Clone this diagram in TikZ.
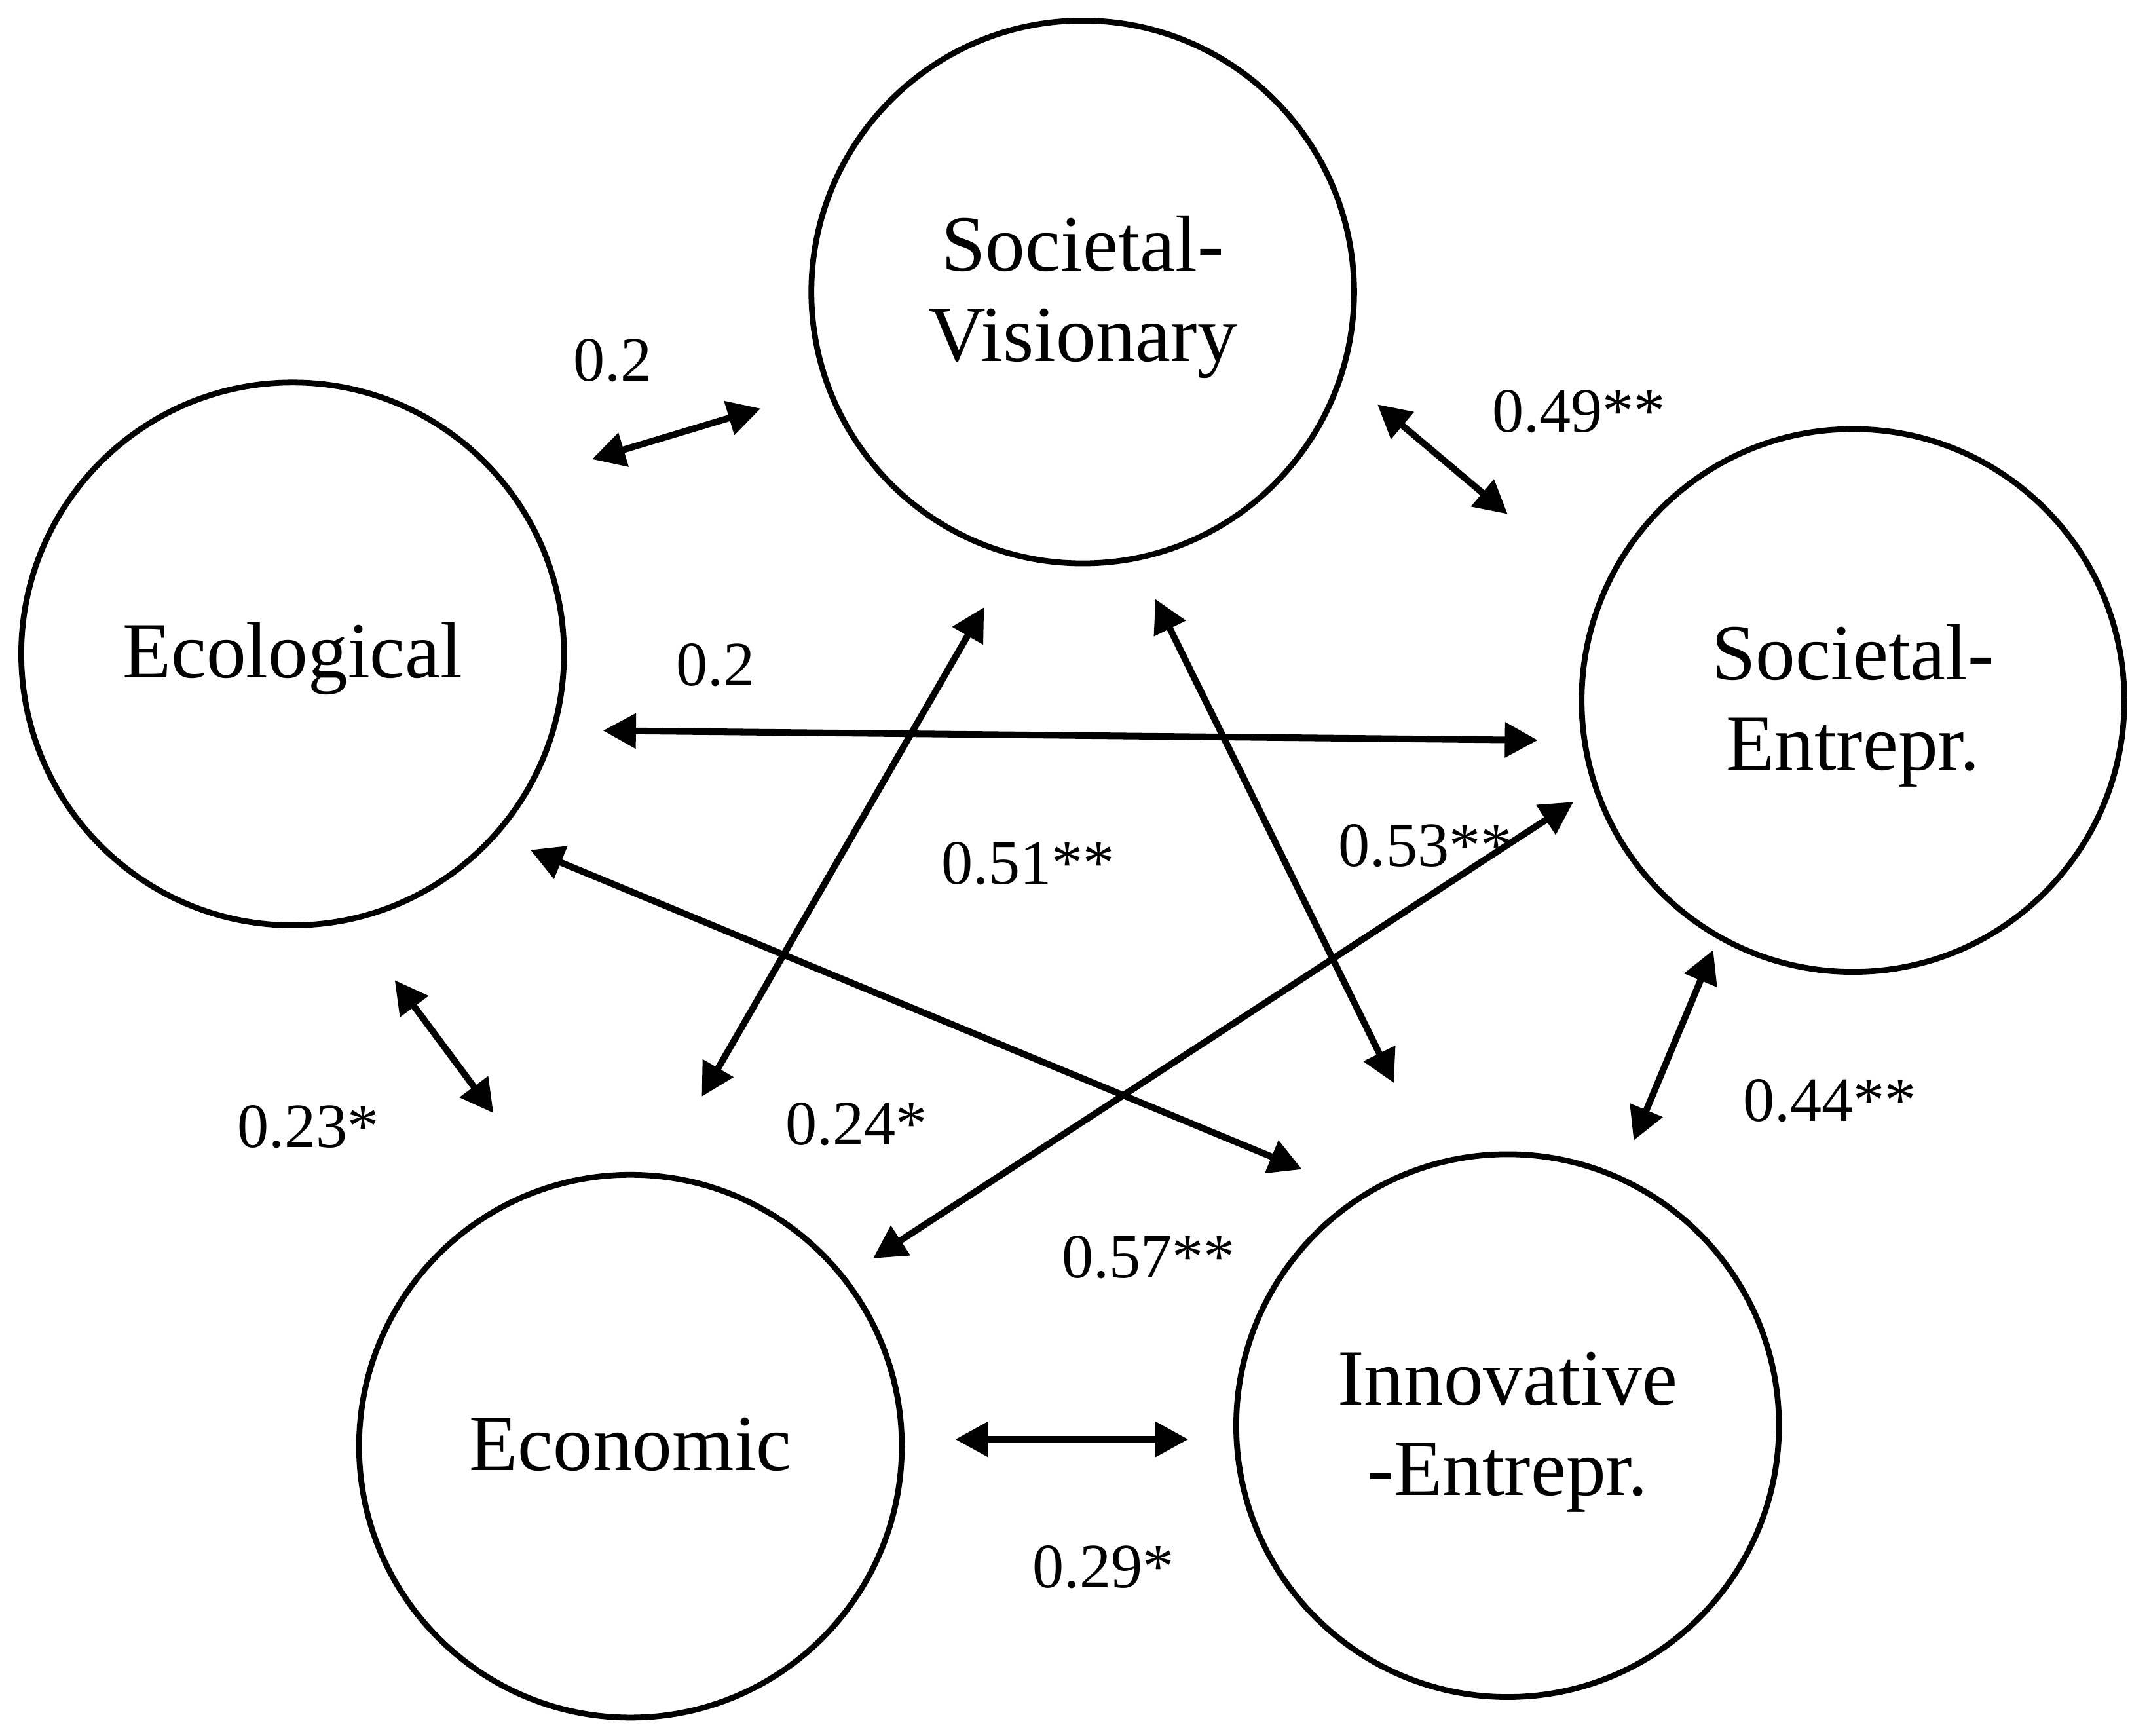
\documentclass[tikz,border=0pt]{standalone}
\usepackage{fontspec}
\setmainfont{Liberation Serif}
\usetikzlibrary{arrows.meta}
\newcommand{\ctxt}[1]{\raisebox{-2.2pt}[\height][\depth]{\begin{tabular}{@{}c@{}}#1\end{tabular}}}
\tikzset{
  construct/.style={circle, draw, line width=2.1pt, minimum size=198pt, inner sep=0pt, font=\fontsize{29}{33}\selectfont},
  corr/.style={line width=2.4pt, {Triangle[length=12pt,width=12.4pt]}-{Triangle[length=12pt,width=12.4pt]}},
  lab/.style={font=\fontsize{23}{26}\selectfont, inner sep=0pt}
}
\begin{document}
\begin{tikzpicture}[x=0.5pt,y=-0.5pt]
\useasboundingbox (0,0) rectangle (1568,1266);
% constructs
\node[construct] (sv) at (790,213) {\ctxt{Societal-\\Visionary}};
\node[construct] (eco) at (213.5,477) {\ctxt{Ecological}};
\node[construct] (se) at (1352,511) {\ctxt{Societal-\\Entrepr.}};
\node[construct] (econ) at (460,1055) {\ctxt{Economic}};
\node[construct] (ie) at (1100,1040) {\ctxt{Innovative\\-Entrepr.}};
% connector end points
\coordinate (a1) at (432,335); \coordinate (b1) at (555,298);
\coordinate (a2) at (1005,295); \coordinate (b2) at (1100,375);
\coordinate (a3) at (440,533); \coordinate (b3) at (1122,540);
\coordinate (a4) at (512,800); \coordinate (b4) at (718,443);
\coordinate (a5) at (843,437); \coordinate (b5) at (1017,790);
\coordinate (a6) at (637,918); \coordinate (b6) at (1148,585);
\coordinate (a7) at (387,620); \coordinate (b7) at (950,853);
\coordinate (a8) at (288,715); \coordinate (b8) at (360,812);
\coordinate (a9) at (1250,693); \coordinate (b9) at (1192,832);
\coordinate (a10) at (697,1050); \coordinate (b10) at (867,1050);
\foreach \i in {1,...,10} {\draw[corr] (a\i) -- (b\i);}
% labels
\node[lab] (l1) at (447,263) {0.2};
\node[lab] (l2) at (1152,300) {0.49**};
\node[lab] (l3) at (522,485) {0.2};
\node[lab] (l4) at (750,630) {0.51**};
\node[lab] (l5) at (1040,617) {0.53**};
\node[lab] (l6) at (625,820) {0.24*};
\node[lab] (l7) at (225,822) {0.23*};
\node[lab] (l8) at (1335,803) {0.44**};
\node[lab] (l9) at (838,917) {0.57**};
\node[lab] (l10) at (805,1143) {0.29*};
\end{tikzpicture}
\end{document}
